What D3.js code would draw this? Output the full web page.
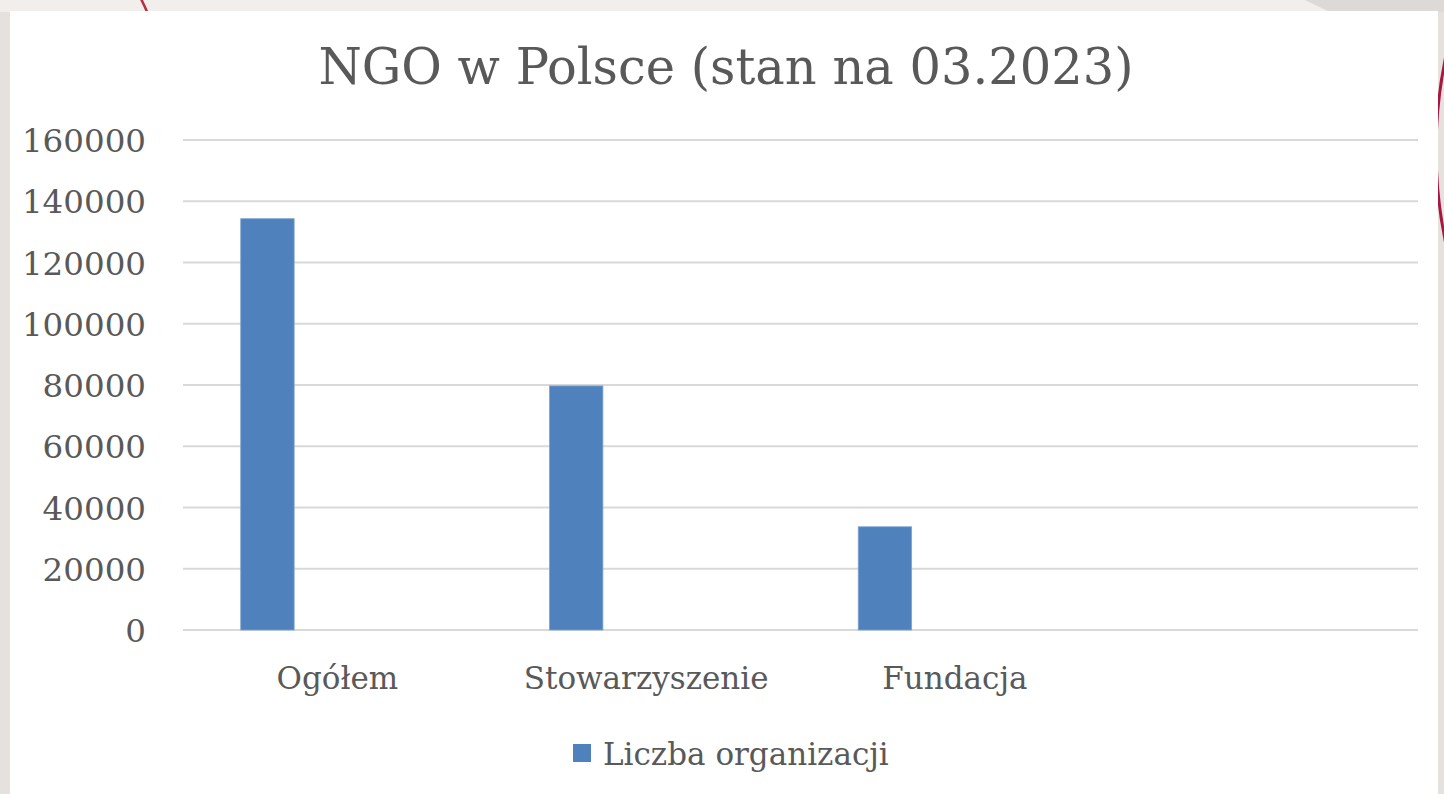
<!DOCTYPE html>
<html>
<head>
<meta charset="utf-8">
<script src="https://cdn.jsdelivr.net/npm/d3@7"></script>
<style>
  body { margin: 0; background: #e4e1de; }
  svg { display: block; }
</style>
</head>
<body>
<div id="chart"></div>
<script>
// chart values
var chartTitle = "NGO w Polsce (stan na 03.2023)";
var categories = ["Ogółem", "Stowarzyszenie", "Fundacja", ""];
var seriesName = "Liczba organizacji";
var values = [134300, 79700, 33700, null];
var yTicks = [0, 20000, 40000, 60000, 80000, 100000, 120000, 140000, 160000];

var svgWidth = 1444;
var svgHeight = 794;

var plot = { left: 183, right: 1418, top: 140, bottom: 630 };

var svg = d3.select("#chart")
  .append("svg")
  .attr("width", svgWidth)
  .attr("height", svgHeight);

// slide background behind the chart panel
svg.append("rect")
  .attr("width", svgWidth)
  .attr("height", svgHeight)
  .attr("fill", "#e4e1de");
svg.append("rect")
  .attr("x", 0).attr("y", 0)
  .attr("width", svgWidth).attr("height", 12)
  .attr("fill", "#f1eeeb");
svg.append("path")
  .attr("d", "M1305,0 L1444,0 L1444,12 L1330,12 Z")
  .attr("fill", "#dcd9d6");
svg.append("path")
  .attr("d", "M118,-40 Q138,-10 148,14")
  .attr("fill", "none")
  .attr("stroke", "#b5303f")
  .attr("stroke-width", 2.5);
svg.append("path")
  .attr("d", "M1452,30 Q1420,150 1452,270")
  .attr("fill", "none")
  .attr("stroke", "#a8163f")
  .attr("stroke-width", 3);

// white chart panel
svg.append("rect")
  .attr("x", 10).attr("y", 11)
  .attr("width", 1428).attr("height", 800)
  .attr("fill", "#ffffff");

var x = d3.scaleBand()
  .domain(categories)
  .range([plot.left, plot.right])
  .padding(0);

var y = d3.scaleLinear()
  .domain([0, 160000])
  .range([plot.bottom, plot.top]);

// gridlines
svg.append("g")
  .selectAll("line")
  .data(yTicks)
  .enter()
  .append("line")
  .attr("x1", plot.left)
  .attr("x2", plot.right)
  .attr("y1", d => y(d))
  .attr("y2", d => y(d))
  .attr("stroke", "#d9d9d9")
  .attr("stroke-width", 1.8);

// y axis labels
var yAxis = d3.axisLeft(y)
  .tickValues(yTicks)
  .tickFormat(d3.format("d"))
  .tickSize(0)
  .tickPadding(0);

var yAxisG = svg.append("g")
  .attr("transform", "translate(146,0)")
  .call(yAxis);
yAxisG.select(".domain").remove();
yAxisG.selectAll("text")
  .attr("font-family", "'DejaVu Serif', serif")
  .attr("font-size", "32.5px")
  .attr("fill", "#595959")
  .attr("dy", "0.36em");

// bars: the one series sits left inside each category slot
var barOffset = 0.187;
var barWidth = 0.173;

svg.append("g")
  .selectAll("rect")
  .data(categories.map((c, i) => ({ cat: c, value: values[i] })).filter(d => d.value != null))
  .enter()
  .append("rect")
  .attr("x", d => x(d.cat) + x.bandwidth() * barOffset)
  .attr("y", d => y(d.value))
  .attr("width", x.bandwidth() * barWidth)
  .attr("height", d => y(0) - y(d.value))
  .attr("fill", "#4f81bd")
  .attr("stroke", "#7fa3d1")
  .attr("stroke-width", 0.8);

// category labels
var xAxis = d3.axisBottom(x)
  .tickSize(0)
  .tickPadding(0);

var xAxisG = svg.append("g")
  .attr("transform", `translate(0, ${plot.bottom})`)
  .call(xAxis);
xAxisG.select(".domain").remove();
xAxisG.selectAll("text")
  .attr("font-family", "'DejaVu Serif', serif")
  .attr("font-size", "31px")
  .attr("fill", "#595959")
  .attr("dy", 0)
  .attr("y", 59);

// title
svg.append("text")
  .attr("x", 726)
  .attr("y", 84)
  .attr("text-anchor", "middle")
  .attr("font-family", "'DejaVu Serif', serif")
  .attr("font-size", "49.5px")
  .attr("fill", "#595959")
  .text(chartTitle);

// legend
var legend = svg.append("g")
  .attr("transform", "translate(573, 744)");
legend.append("rect")
  .attr("width", 18)
  .attr("height", 18)
  .attr("fill", "#4f81bd");
legend.append("text")
  .attr("x", 30)
  .attr("y", 21)
  .attr("font-family", "'DejaVu Serif', serif")
  .attr("font-size", "31px")
  .attr("fill", "#595959")
  .text(seriesName);
</script>
</body>
</html>
